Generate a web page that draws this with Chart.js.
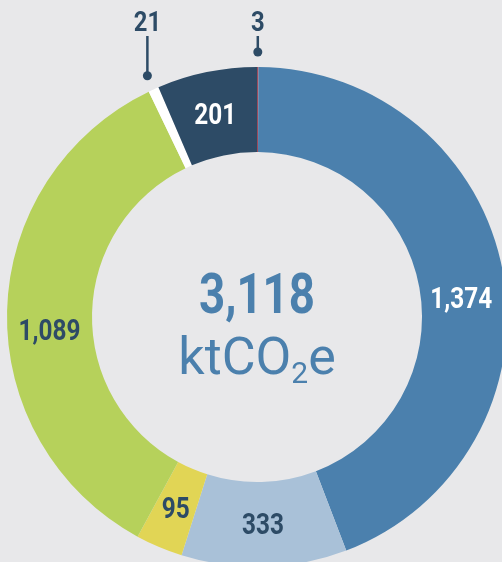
<!DOCTYPE html>
<html>
<head>
<meta charset="utf-8">
<script src="https://cdn.jsdelivr.net/npm/chart.js@4"></script>
<style>
  html, body { margin: 0; padding: 0; background: #e8e8ea; overflow: hidden; }
  #wrap { position: absolute; left: 0; top: 0; width: 520px; height: 580px; }
</style>
</head>
<body>
<div id="wrap"><canvas id="donut" width="520" height="580"></canvas></div>
<script>
// emissions split, clockwise from the top
const sliceValues = [3, 1374, 333, 95, 1089, 21, 201];
const sliceLabels = ['3', '1,374', '333', '95', '1,089', '21', '201'];
const sliceColours = ['#9b4a5c', '#4b80ad', '#a9c1d8', '#e1d555', '#b6d15b', '#ffffff', '#2d4b66'];
const labelColours = ['#2d4b66', '#ffffff', '#2d4b66', '#2d4b66', '#2d4b66', '#2d4b66', '#ffffff'];
const totalLabel = '3,118';

const NAVY = '#2d4b66';

// roboto squeezed sideways, close enough to the condensed face in the original
function narrowText(ctx, txt, x, y, size, squeeze) {
  ctx.save();
  ctx.font = 'bold ' + size + 'px Roboto, sans-serif';
  ctx.textAlign = 'center';
  ctx.translate(x, y);
  ctx.scale(squeeze, 1);
  ctx.fillText(txt, 0, 0);
  ctx.restore();
}

// labels: small slices get a pin above the ring, the rest sit inside
const sliceText = {
  id: 'sliceText',
  afterDatasetsDraw(chart) {
    const ctx = chart.ctx;
    const arcs = chart.getDatasetMeta(0).data;
    ctx.save();
    ctx.textBaseline = 'alphabetic';
    arcs.forEach((arc, i) => {
      const p = arc.getProps(['x', 'y', 'startAngle', 'endAngle', 'innerRadius', 'outerRadius'], true);
      const mid = (p.startAngle + p.endAngle) / 2;
      if (sliceValues[i] < 50) {
        const r = p.outerRadius + 15;
        const dx = p.x + Math.cos(mid) * r;
        const dy = p.y + Math.sin(mid) * r;
        ctx.strokeStyle = NAVY;
        ctx.fillStyle = NAVY;
        ctx.lineWidth = 2.5;
        ctx.beginPath();
        ctx.moveTo(dx, dy);
        ctx.lineTo(dx, 36);
        ctx.stroke();
        ctx.beginPath();
        ctx.arc(dx, dy, 4.5, 0, Math.PI * 2);
        ctx.fill();
        narrowText(ctx, sliceLabels[i], dx, 31, 28, 0.85);
      } else {
        const r = (p.innerRadius + p.outerRadius) / 2;
        const tx = p.x + Math.cos(mid) * r;
        let ty = p.y + Math.sin(mid) * r;
        // the two big slices have their numbers set a bit lower
        if (sliceValues[i] > 1000) ty += 18;
        ctx.fillStyle = labelColours[i];
        narrowText(ctx, sliceLabels[i], tx, ty + 10, 29, 0.84);
      }
    });

    // total in the hole
    const cx = (chart.chartArea.left + chart.chartArea.right) / 2;
    const cy = (chart.chartArea.top + chart.chartArea.bottom) / 2;
    ctx.fillStyle = '#4b80ad';
    narrowText(ctx, totalLabel, cx, cy - 4, 55, 0.83);

    ctx.font = '52px Roboto, sans-serif';
    const a = 'ktCO', b = '2', c = 'e';
    const wa = ctx.measureText(a).width;
    ctx.font = '30px Roboto, sans-serif';
    const wb = ctx.measureText(b).width;
    ctx.font = '52px Roboto, sans-serif';
    const wc = ctx.measureText(c).width;
    const x0 = cx - (wa + wb + wc) / 2;
    ctx.textAlign = 'left';
    ctx.fillText(a, x0, cy + 57);
    ctx.fillText(c, x0 + wa + wb, cy + 57);
    ctx.font = '30px Roboto, sans-serif';
    ctx.fillText(b, x0 + wa, cy + 66);
    ctx.restore();
  }
};

new Chart(document.getElementById('donut'), {
  type: 'doughnut',
  data: {
    labels: sliceLabels,
    datasets: [{
      data: sliceValues,
      backgroundColor: sliceColours,
      borderWidth: 0
    }]
  },
  options: {
    responsive: false,
    animation: false,
    events: [],
    cutout: '66%',
    layout: {
      padding: { left: 7, top: 67, right: 13, bottom: 13 }
    },
    plugins: {
      legend: { display: false },
      tooltip: { enabled: false }
    }
  },
  plugins: [sliceText]
});
</script>
</body>
</html>
